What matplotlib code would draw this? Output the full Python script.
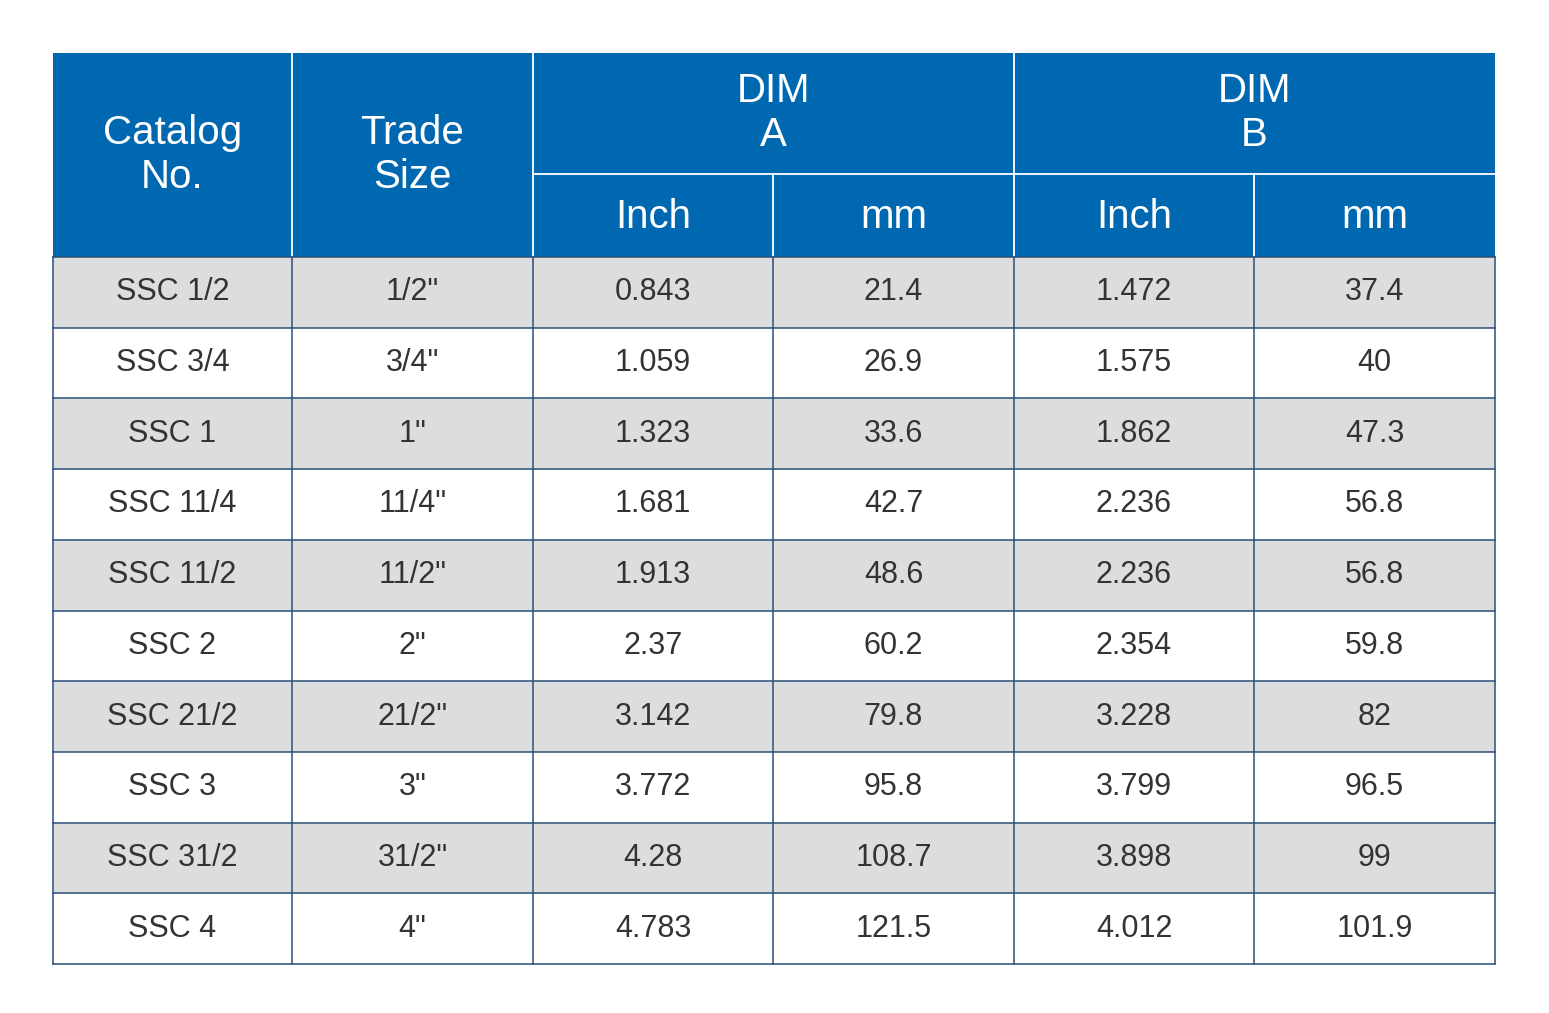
import matplotlib.pyplot as plt
from matplotlib.patches import Rectangle

catalog = ["SSC 1/2", "SSC 3/4", "SSC 1", "SSC 11/4", "SSC 11/2",
           "SSC 2", "SSC 21/2", "SSC 3", "SSC 31/2", "SSC 4"]
trade = ['1/2"', '3/4"', '1"', '11/4"', '11/2"', '2"', '21/2"', '3"', '31/2"', '4"']
a_inch = ["0.843", "1.059", "1.323", "1.681", "1.913", "2.37", "3.142", "3.772", "4.28", "4.783"]
a_mm = ["21.4", "26.9", "33.6", "42.7", "48.6", "60.2", "79.8", "95.8", "108.7", "121.5"]
b_inch = ["1.472", "1.575", "1.862", "2.236", "2.236", "2.354", "3.228", "3.799", "3.898", "4.012"]
b_mm = ["37.4", "40", "47.3", "56.8", "56.8", "59.8", "82", "96.5", "99", "101.9"]

BLUE = "#0067b1"
GRAY = "#dcddde"
TXT = "#333333"
LINE = "#2b4f7a"
FONT = "Liberation Sans"

W, H = 1549, 1013
fig = plt.figure(figsize=(W / 100, H / 100), dpi=100)
ax = fig.add_axes([0, 0, 1, 1])
ax.set_xlim(0, W)
ax.set_ylim(H, 0)
ax.axis("off")

xs = [53, 292, 533, 773, 1014, 1254, 1495]
top, mid, hdr_bot, bot = 53, 174, 257, 964
rh = (bot - hdr_bot) / len(catalog)

# header
ax.add_patch(Rectangle((xs[0], top), xs[-1] - xs[0], hdr_bot - top, color=BLUE, lw=0))
hk = dict(color="white", fontsize=29, ha="center", va="center", family=FONT)
ax.text((xs[0] + xs[1]) / 2, 155, "Catalog\nNo.", linespacing=1.2, **hk)
ax.text((xs[1] + xs[2]) / 2, 155, "Trade\nSize", linespacing=1.2, **hk)
ax.text((xs[2] + xs[4]) / 2, 113, "DIM\nA", linespacing=1.2, **hk)
ax.text((xs[4] + xs[6]) / 2, 113, "DIM\nB", linespacing=1.2, **hk)
for i, lab in enumerate(["Inch", "mm", "Inch", "mm"]):
    ax.text((xs[i + 2] + xs[i + 3]) / 2, 217, lab, **hk)
for x in xs[1:-1]:
    y0 = top if x in (292, 533, 1014) else mid
    ax.plot([x, x], [y0, hdr_bot], color="white", lw=1.3)
ax.plot([xs[2], xs[-1]], [mid, mid], color="white", lw=1.3)

# body
cols = [catalog, trade, a_inch, a_mm, b_inch, b_mm]
for r in range(len(catalog)):
    y = hdr_bot + r * rh
    if r % 2 == 0:
        ax.add_patch(Rectangle((xs[0], y), xs[-1] - xs[0], rh, color=GRAY, lw=0))
    for c, col in enumerate(cols):
        ax.text((xs[c] + xs[c + 1]) / 2, y + rh / 2, col[r], color=TXT, fontsize=22,
                ha="center", va="center", family=FONT)

for r in range(len(catalog) + 1):
    y = hdr_bot + r * rh
    ax.plot([xs[0], xs[-1]], [y, y], color=LINE, lw=1.1)
for x in xs:
    ax.plot([x, x], [hdr_bot, bot], color=LINE, lw=1.1)

fig.savefig("out.png", dpi=100, facecolor="white")
